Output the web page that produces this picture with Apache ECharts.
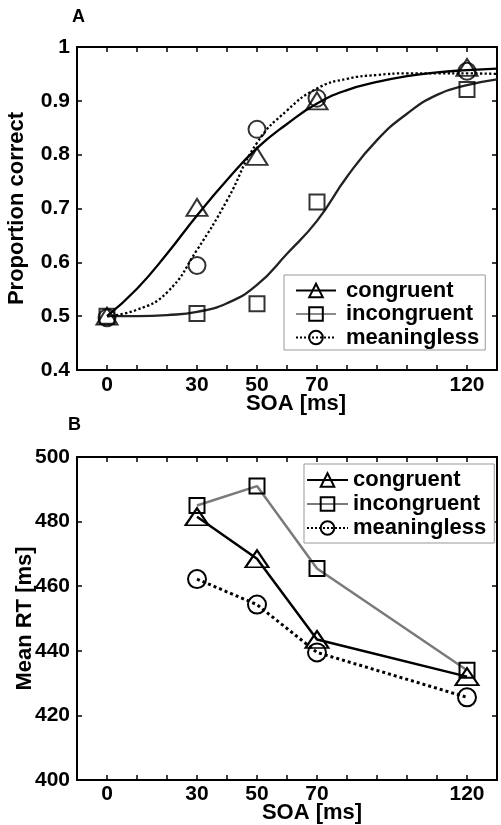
<!DOCTYPE html>
<html>
<head>
<meta charset="utf-8">
<title>SOA</title>
<script src="https://cdn.jsdelivr.net/npm/echarts@6/dist/echarts.min.js"></script>
<style>
html, body { margin: 0; padding: 0; background: #fff; }
#chart { width: 501px; height: 825px; }
</style>
</head>
<body>
<div id="chart"></div>
<script>
// SOA values (ms)
const soaA = [0, 30, 50, 70, 120]
const soaB = [30, 50, 70, 120]
const xTickLabels = [0, 30, 50, 70, 120]

// panel A: proportion correct (markers)
const congruentA = [0.500, 0.702, 0.797, 0.900, 0.962]
const incongruentA = [0.500, 0.505, 0.523, 0.712, 0.921]
const meaninglessA = [0.497, 0.594, 0.847, 0.905, 0.955]

// panel A: fitted curves, every 10 ms
const fitX = [0, 10, 20, 30, 40, 50, 60, 70, 80, 90, 100, 110, 120, 130]
const congruentFit = [0.500, 0.551, 0.616, 0.687, 0.753, 0.812, 0.857, 0.895, 0.920, 0.935, 0.946, 0.953, 0.957, 0.960]
const incongruentFit = [0.500, 0.500, 0.502, 0.508, 0.524, 0.558, 0.616, 0.677, 0.759, 0.827, 0.876, 0.911, 0.929, 0.940]
const meaninglessFit = [0.500, 0.512, 0.544, 0.623, 0.715, 0.822, 0.882, 0.923, 0.941, 0.948, 0.951, 0.951, 0.951, 0.950]

// panel B: mean RT (ms)
const congruentB = [481.5, 468.5, 443.5, 432]
const incongruentB = [485, 491, 465.5, 434]
const meaninglessB = [462.2, 454.3, 439.5, 425.6]

const FONT = 'Liberation Sans, Arial, Helvetica, sans-serif'
const pairs = (xs, ys) => xs.map((x, i) => [x, ys[i]])

const hollow = { color: 'rgba(0,0,0,0)', borderColor: '#000', borderWidth: 2 }
const txt = { color: '#000', fontFamily: FONT, fontWeight: 'bold' }

function xAxes(grid, margin, gap, shift) {
  const base = {
    type: 'value', gridIndex: grid, min: -10, max: 130, interval: 10,
    axisLine: { onZero: false, lineStyle: { color: '#000', width: 2 } },
    axisTick: { inside: true, length: 5, lineStyle: { color: '#000', width: 1.5 } },
    splitLine: { show: false }
  }
  return [
    Object.assign({}, base, {
      position: 'bottom',
      axisLabel: Object.assign({ margin: margin, fontSize: 21,
        formatter: v => xTickLabels.includes(Math.round(v)) ? String(Math.round(v)) : '' }, txt),
      name: 'SOA [ms]', nameLocation: 'middle', nameGap: gap, nameMoveOverlap: false,
      nameTextStyle: Object.assign({ fontSize: 22, padding: [0, 0, 0, shift] }, txt)
    }),
    Object.assign({}, base, { position: 'top', axisLabel: { show: false } })
  ]
}

function yAxes(grid, min, max, interval, name, gap, fmt) {
  const base = {
    type: 'value', gridIndex: grid, min: min, max: max, interval: interval,
    axisLine: { show: true, onZero: false, lineStyle: { color: '#000', width: 2 } },
    axisTick: { show: true, inside: true, length: 5, lineStyle: { color: '#000', width: 1.5 } },
    splitLine: { show: false }
  }
  return [
    Object.assign({}, base, {
      position: 'left',
      axisLabel: Object.assign({ margin: 7, fontSize: 21, formatter: fmt }, txt),
      name: name, nameLocation: 'middle', nameGap: gap, nameMoveOverlap: false,
      nameTextStyle: Object.assign({ fontSize: 22 }, txt)
    }),
    Object.assign({}, base, { position: 'right', axisLabel: { show: false } })
  ]
}

function curve(name, data, color, type, symbol) {
  return {
    name: name, type: 'line', xAxisIndex: 0, yAxisIndex: 0,
    data: data, smooth: 0.5,
    symbol: symbol, showSymbol: false, silent: true, z: 2,
    lineStyle: { color: color, width: 2.3, type: type },
    itemStyle: hollow
  }
}

function points(name, data, symbol, size) {
  return {
    name: name, type: 'scatter', xAxisIndex: 0, yAxisIndex: 0,
    data: data, symbol: symbol, symbolSize: size, z: 3,
    itemStyle: hollow
  }
}

function rtLine(name, data, color, type, width, symbol, size) {
  return {
    name: name, type: 'line', xAxisIndex: 2, yAxisIndex: 2,
    data: data, symbol: symbol, symbolSize: size, showAllSymbol: true,
    lineStyle: { color: color, width: width, type: type },
    itemStyle: hollow
  }
}

const legendBase = {
  orient: 'vertical', selectedMode: false,
  borderColor: '#999', borderWidth: 1, backgroundColor: '#fff',
  itemStyle: hollow
}

const option = {
  animation: false,
  backgroundColor: '#fff',
  title: [
    { text: 'A', left: 72, top: 8, padding: 0, textStyle: Object.assign({ fontSize: 18 }, txt) },
    { text: 'B', left: 68, top: 416, padding: 0, textStyle: Object.assign({ fontSize: 18 }, txt) }
  ],
  grid: [
    { left: 77, top: 47, width: 420, height: 323, outerBoundsMode: 'none' },
    { left: 77, top: 457, width: 420, height: 323, outerBoundsMode: 'none' }
  ],
  xAxis: xAxes(0, 5, 23, 18).concat(xAxes(1, 4, 22, 50)),
  yAxis: yAxes(0, 0.4, 1, 0.1, 'Proportion correct', 49, v => String(Math.round(v * 10) / 10))
    .concat(yAxes(1, 400, 500, 20, 'Mean RT [ms]', 41, v => String(Math.round(v)))),
  legend: [
    Object.assign({}, legendBase, {
      left: 284, top: 275, padding: [4, 6, 1, 11],
      itemWidth: 40, itemHeight: 17, itemGap: 0.5,
      textStyle: Object.assign({ fontSize: 22, lineHeight: 23, padding: [0, 0, 0, 5] }, txt),
      data: [
        { name: 'congruent' },
        { name: 'incongruent', lineStyle: { color: '#8a8a8a' } },
        { name: 'meaningless' }
      ]
    }),
    Object.assign({}, legendBase, {
      left: 304, top: 464, padding: [4, 8, 3, 2],
      itemWidth: 41, itemHeight: 17, itemGap: 0,
      textStyle: Object.assign({ fontSize: 22, lineHeight: 24 }, txt),
      formatter: n => n.replace(' (B)', ''),
      data: ['congruent (B)', 'incongruent (B)', 'meaningless (B)']
    })
  ],
  series: [
    curve('congruent', pairs(fitX, congruentFit), '#000', 'solid', 'triangle'),
    curve('incongruent', pairs(fitX, incongruentFit), '#222', 'solid', 'rect'),
    curve('meaningless', pairs(fitX, meaninglessFit), '#000', 'dotted', 'circle'),
    points('congruent pts', pairs(soaA, congruentA), 'triangle', [21, 17]),
    points('incongruent pts', pairs(soaA, incongruentA), 'rect', 15),
    points('meaningless pts', pairs(soaA, meaninglessA), 'circle', 17),
    rtLine('congruent (B)', pairs(soaB, congruentB), '#000', 'solid', 2.5, 'triangle', [23, 17]),
    rtLine('incongruent (B)', pairs(soaB, incongruentB), '#7a7a7a', 'solid', 2.5, 'rect', 15),
    rtLine('meaningless (B)', pairs(soaB, meaninglessB), '#000', 'dotted', 3, 'circle', 18)
  ]
}

const myChart = echarts.init(document.getElementById('chart'))
myChart.setOption(option)
window.onresize = function () {
  myChart.resize()
}
</script>
</body>
</html>
